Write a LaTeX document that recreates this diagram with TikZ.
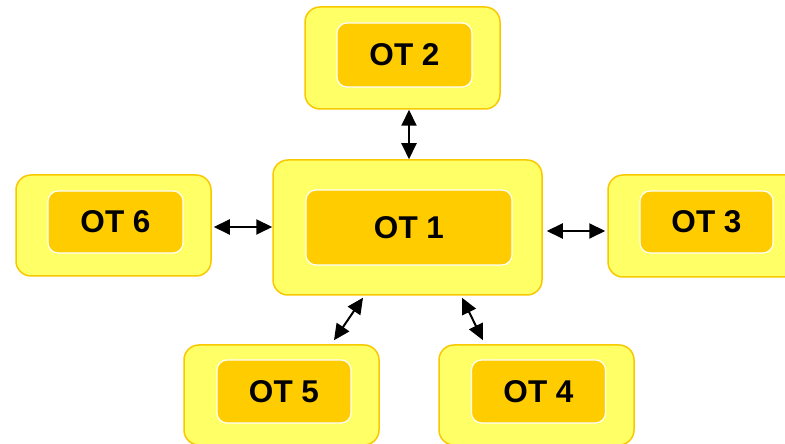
\documentclass[tikz,border=0pt]{standalone}
\usepackage{fontspec}
\setmainfont{Liberation Sans}
\usepackage{tikz}
\usetikzlibrary{arrows.meta,calc}
\definecolor{BoxOuter}{HTML}{FFFF66}
\definecolor{BoxInner}{HTML}{FFCC00}
\definecolor{BoxBorder}{HTML}{F8C800}

\begin{document}
\begin{tikzpicture}[x=1pt, y=1pt,
    outerbox/.style={draw=BoxBorder, line width=1.5pt, fill=BoxOuter,
      rounded corners=15pt, inner sep=0pt},
    innerbox/.style={draw=white, line width=1.2pt, fill=BoxInner,
      rounded corners=10pt, inner sep=0pt,
      font=\fontsize{31.5}{36}\selectfont\bfseries},
    link/.style={line width=2pt, {Triangle[length=16pt,width=15pt]}-{Triangle[length=16pt,width=15pt]}}]
      \useasboundingbox (0,0) rectangle (785,444);
      % Outer boxes
      \node[outerbox, minimum width=269pt, minimum height=135pt] (ot1) at (407.5,216.5) {};
      \node[outerbox, minimum width=195pt, minimum height=102pt] (ot2) at (402.5,386) {};
      \node[outerbox, minimum width=195pt, minimum height=101pt] (ot6) at (113.5,218.5) {};
      \node[outerbox, minimum width=195pt, minimum height=102pt] (ot3) at (705.5,218) {};
      \node[outerbox, minimum width=195pt, minimum height=100pt] (ot5) at (281.5,49) {};
      \node[outerbox, minimum width=195pt, minimum height=100pt] (ot4) at (536.5,49) {};
      % Inner boxes
      \node[innerbox, minimum width=206pt, minimum height=75pt] (ot1in) at ($(ot1)+(1.5,0)$) {OT 1};
      \node[innerbox, minimum width=135pt, minimum height=64pt] (ot2in) at ($(ot2)+(2,3)$) {OT 2};
      \node[innerbox, minimum width=135pt, minimum height=62pt] (ot6in) at ($(ot6)+(2,3.5)$) {OT 6};
      \node[innerbox, minimum width=133pt, minimum height=62pt] (ot3in) at ($(ot3)+(1,4)$) {OT 3};
      \node[innerbox, minimum width=134pt, minimum height=63pt] (ot5in) at ($(ot5)+(2.5,3.5)$) {OT 5};
      \node[innerbox, minimum width=134pt, minimum height=63pt] (ot4in) at ($(ot4)+(2,3.5)$) {OT 4};
      % Arrows
      \draw[link] ($(ot2.south)+(6.5,0)$) -- ($(ot1.north)+(1.5,0)$);
      \draw[link] ($(ot6.east)+(2,-1.5)$) -- ($(ot1.west)+(0,0.5)$);
      \draw[link] ($(ot1.east)+(4,-3.5)$) -- ($(ot3.west)+(-2,-5)$);
      \draw[link] ($(ot1.south)+(-44.5,-2)$) -- ($(ot5.north)+(52.5,4)$);
      \draw[link] ($(ot1.south)+(54.5,-2)$) -- ($(ot4.north)+(-53.5,4)$);
    \end{tikzpicture}
\end{document}
